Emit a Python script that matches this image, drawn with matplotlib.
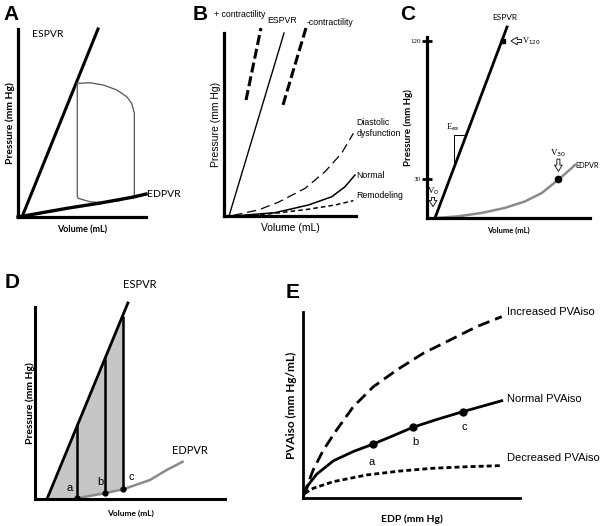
import matplotlib
matplotlib.use("Agg")
import matplotlib.pyplot as plt

# ---------------- data (arbitrary units) ----------------
# A
a_espvr_v = [3.1, 62.5]
a_espvr_p = [0, 100]
a_loop_v = [46.3, 56.3, 66.6, 77.1, 84.9, 88.8, 90.9, 90.9, 79.7, 66.6, 56.3, 47.1, 46.3, 46.3]
a_loop_p = [71.1, 71.4, 70.2, 67.6, 64.0, 60.5, 55.2, 11.2, 8.7, 7.6, 8.1, 9.9, 10.8, 71.1]
a_edpvr_v = [0, 38, 64, 90, 100]
a_edpvr_p = [0, 4.6, 7.4, 10.6, 12.2]

# B
b_espvr_v = [3.8, 45.5]
b_espvr_p = [0, 100]
b_plus_v = [16.7, 28.0]
b_plus_p = [63.4, 102.7]
b_minus_v = [44.7, 62.1]
b_minus_p = [60.7, 102.7]
b_dd_v = [6.8, 26.0, 41.1, 61.4, 76.5, 89.1, 98.0]
b_dd_p = [0.3, 3.3, 7.5, 15.1, 24.2, 34.3, 45.2]
b_norm_v = [6.8, 38.6, 63.9, 81.6, 91.7, 99.2]
b_norm_p = [0.0, 1.8, 6.0, 10.5, 16.0, 22.4]
b_rem_v = [15.9, 38.6, 63.9, 84.1, 98.0]
b_rem_p = [0.0, 1.5, 3.7, 6.0, 8.4]

# C
c_espvr_v = [4.9, 49.1]
c_espvr_p = [4.6, 129.1]
c_edpvr_v = [6.0, 19.2, 33.6, 47.9, 60.1, 70.4, 80.6, 88.8, 90.8]
c_edpvr_p = [4.6, 5.7, 7.9, 11.2, 15.4, 20.9, 29.6, 37.2, 39.3]
c_ticks = [30, 120]
c_v120 = (46.4, 120)
c_v30 = (80.6, 30)
c_ees_v = [16.6, 16.6, 24.0]
c_ees_p = [40.6, 58.8, 58.8]

# D
d_espvr_v = [6.3, 48.9]
d_espvr_p = [0, 102.1]
d_edpvr_v = [21.9, 36.8, 46.5, 60.5, 69.3, 77.7]
d_edpvr_p = [0.4, 3.0, 5.1, 9.9, 15.1, 19.4]
d_pts = ["a", "b", "c"]
d_pts_v = [22.1, 36.8, 46.3]
d_pts_top = [39.1, 73.4, 95.3]
d_pts_bot = [0.4, 3.0, 5.1]

# E
e_inc_x = [0.2, 1.7, 4.7, 9.4, 15.5, 23.2, 32.4, 43.2, 55.4, 67.7, 80.0, 91.6]
e_inc_y = [1.0, 6.1, 15.1, 25.8, 36.6, 49.1, 59.8, 68.8, 77.8, 84.9, 92.1, 97.5]
e_norm_x = [0.1, 2.4, 6.3, 14.0, 23.2, 32.1, 41.6, 50.6, 61.6, 73.6, 83.1, 91.6]
e_norm_y = [1.0, 7.0, 12.8, 20.0, 25.0, 28.9, 33.5, 38.0, 42.2, 46.4, 49.5, 52.3]
e_dec_x = [0.9, 4.7, 14.0, 29.4, 44.7, 60.0, 75.4, 90.8]
e_dec_y = [2.5, 5.2, 8.8, 12.4, 14.5, 16.0, 16.8, 17.4]
e_pts = ["a", "b", "c"]
e_pts_x = [32.1, 50.6, 73.6]
e_pts_y = [28.9, 38.0, 46.4]

W, H = 600, 526
fig = plt.figure(figsize=(6, 5.26), dpi=100)

CAL = ["Lato", "DejaVu Sans"]
ARI = ["Liberation Sans", "DejaVu Sans"]
SER = ["Liberation Serif", "DejaVu Serif"]


def panel(l, t, r, b, xlim, ylim, lw):
    ax = fig.add_axes([l / W, 1 - b / H, (r - l) / W, (b - t) / H])
    ax.set_xlim(*xlim)
    ax.set_ylim(*ylim)
    for s in ["top", "right"]:
        ax.spines[s].set_visible(False)
    for s in ["left", "bottom"]:
        ax.spines[s].set_linewidth(lw)
        ax.spines[s].set_capstyle("projecting")
    ax.set_xticks([])
    ax.set_yticks([])
    ax.patch.set_alpha(0)
    return ax


def letter(x, y, s):
    fig.text(x / W, 1 - y / H, s, fontsize=15, fontweight="bold", family=ARI,
             ha="left", va="center")


# ---------------- A ----------------
ax = panel(18, 29, 146, 217, (0, 100), (0, 100), 2.3)
ax.plot(a_espvr_v, a_espvr_p, color="k", lw=2.2, clip_on=False)
ax.plot(a_loop_v, a_loop_p, color="#555555", lw=0.9)
ax.plot(a_edpvr_v, a_edpvr_p, color="k", lw=2.4, clip_on=False)
ax.text(23, 97, "ESPVR", fontsize=7.5, family=CAL, ha="center", va="center")
ax.text(101, 12, "EDPVR", fontsize=7.5, family=CAL, ha="left", va="center", clip_on=False)
ax.set_ylabel("Pressure (mm Hg)", fontsize=7.5, fontweight="bold", family=CAL, labelpad=2)
ax.set_xlabel("Volume (mL)", fontsize=6.5, fontweight="bold", family=CAL, labelpad=6)
letter(3, 14, "A")

# ---------------- B ----------------
ax = panel(224, 33, 356, 216, (0, 100), (0, 100), 2.3)
ax.plot(b_espvr_v, b_espvr_p, color="k", lw=1.0, clip_on=False)
ax.plot(b_plus_v, b_plus_p, color="k", lw=2.2, dashes=(3.3, 1.3), clip_on=False)
ax.plot(b_minus_v, b_minus_p, color="k", lw=2.2, dashes=(3.3, 1.3), clip_on=False)
ax.plot(b_dd_v, b_dd_p, color="k", lw=0.9, dashes=(7.5, 4))
ax.plot(b_norm_v, b_norm_p, color="k", lw=1.1)
ax.plot(b_rem_v, b_rem_p, color="k", lw=1.1, dashes=(3, 2))
kw = dict(fontsize=6.3, family=ARI, va="center", clip_on=False)
ax.text(-7.5, 110, "+ contractility", ha="left", **kw)
ax.text(44, 107, "ESPVR", ha="center", **kw)
ax.text(62.5, 106, "-contractility", ha="left", **kw)
ax.text(100.5, 51, "Diastolic", ha="left", **kw)
ax.text(100.5, 45, "dysfunction", ha="left", **kw)
ax.text(100.5, 22, "Normal", ha="left", **kw)
ax.text(100.5, 11, "Remodeling", ha="left", **kw)
ax.set_ylabel("Pressure (mm Hg)", fontsize=7.5, family=ARI, labelpad=2)
ax.set_xlabel("Volume (mL)", fontsize=7.5, family=ARI, labelpad=5)
letter(193, 14, "B")

# ---------------- C ----------------
ax = panel(427, 37, 590, 218, (0, 100), (4.6, 122.6), 2.3)
ax.set_yticks(c_ticks)
ax.set_yticklabels([str(t) for t in c_ticks], family=SER, fontsize=5)
ax.tick_params(axis="y", direction="inout", length=7, width=2, pad=1)
ax.plot(c_espvr_v, c_espvr_p, color="k", lw=2.0, clip_on=False)
ax.plot(c_edpvr_v, c_edpvr_p, color="#8a8a8a", lw=1.8, clip_on=False)
ax.plot(c_ees_v, c_ees_p, color="k", lw=0.7)
ax.plot(*c_v120, "s", color="k", ms=3.5)
ax.plot(*c_v30, "o", color="k", ms=4.5)
arr = dict(arrowstyle="simple,head_length=0.45,head_width=0.55,tail_width=0.22",
           fc="white", ec="k", lw=0.6, shrinkA=0, shrinkB=0)
ax.annotate("", xy=(51.5, 120), xytext=(58, 120), arrowprops=arr)
ax.annotate("", xy=(80.6, 35), xytext=(80.6, 43), arrowprops=arr)
ax.annotate("", xy=(3.7, 12), xytext=(3.7, 18), arrowprops=arr, annotation_clip=False)
ax.text(58.5, 120, r"V$_{120}$", fontsize=6, family=SER, ha="left", va="center")
ax.text(80.6, 46.5, r"V$_{30}$", fontsize=6.5, family=SER, ha="center", va="center")
ax.text(3.7, 22, r"V$_0$", fontsize=6.5, family=SER, ha="center", va="center", clip_on=False)
ax.text(16, 63.5, r"E$_{es}$", fontsize=6, family=SER, ha="center", va="center")
ax.text(48, 135.5, "ESPVR", fontsize=6, family=CAL, ha="center", va="center", clip_on=False)
ax.text(91.3, 39, "EDPVR", fontsize=5.3, family=CAL, ha="left", va="center", clip_on=False)
ax.set_ylabel("Pressure (mm Hg)", fontsize=7, fontweight="bold", family=CAL, labelpad=-2)
ax.set_xlabel("Volume (mL)", fontsize=5.5, fontweight="bold", family=CAL, labelpad=6)
letter(400, 14, "C")

# ---------------- D ----------------
ax = panel(35, 307, 225, 499, (0, 100), (0, 100), 2.2)
poly_v = [d_espvr_v[0], d_pts_v[2]] + d_pts_v[::-1] + [d_espvr_v[0]]
poly_p = [d_espvr_p[0], d_pts_top[2]] + d_pts_bot[::-1] + [d_espvr_p[0]]
ax.fill(poly_v, poly_p, color="#c6c6c6", lw=0)
ax.plot(d_espvr_v, d_espvr_p, color="k", lw=2.0, clip_on=False)
ax.plot(d_edpvr_v, d_edpvr_p, color="#8a8a8a", lw=1.8)
ax.vlines(d_pts_v, d_pts_bot, d_pts_top, color="k", lw=1.8)
ax.plot(d_pts_v, d_pts_bot, "o", color="k", ms=3.5)
for s, x, y in zip(d_pts, [18.4, 34.2, 50.5], [5.7, 8.9, 11.5]):
    ax.text(x, y, s, fontsize=8, family=ARI, ha="center", va="center")
ax.text(55.3, 111.5, "ESPVR", fontsize=8, family=CAL, ha="center", va="center", clip_on=False)
ax.text(72, 25.5, "EDPVR", fontsize=8, family=CAL, ha="left", va="center")
ax.set_ylabel("Pressure (mm Hg)", fontsize=7.5, fontweight="bold", family=CAL, labelpad=0)
ax.set_xlabel("Volume (mL)", fontsize=6, fontweight="bold", family=CAL, labelpad=8)
letter(5, 282, "D")

# ---------------- E ----------------
ax = panel(303, 312, 520, 498, (0, 100), (0, 100), 2.0)
ax.plot(e_inc_x, e_inc_y, color="k", lw=2.0, dashes=(4.3, 2.2), clip_on=False)
ax.plot(e_norm_x, e_norm_y, color="k", lw=2.0)
ax.plot(e_dec_x, e_dec_y, color="k", lw=2.0, dashes=(1.8, 1.1))
ax.plot(e_pts_x, e_pts_y, "o", color="k", ms=5)
for s, x, y in zip(e_pts, [31.7, 51.6, 74.2], [19.5, 29.9, 38.0]):
    ax.text(x, y, s, fontsize=8, family=ARI, ha="center", va="center")
kw = dict(fontsize=8, family=ARI, ha="left", va="center", clip_on=False)
ax.text(94, 100, "Increased PVAiso", **kw)
ax.text(94, 53.2, "Normal PVAiso", **kw)
ax.text(94, 21.5, "Decreased PVAiso", **kw)
ax.set_ylabel("PVAiso (mm Hg/mL)", fontsize=8.5, fontweight="bold", family=CAL, labelpad=4)
ax.set_xlabel("EDP (mm Hg)", fontsize=7.5, fontweight="bold", family=CAL, labelpad=12)
letter(286, 292, "E")

fig.savefig("out.png", dpi=100)
